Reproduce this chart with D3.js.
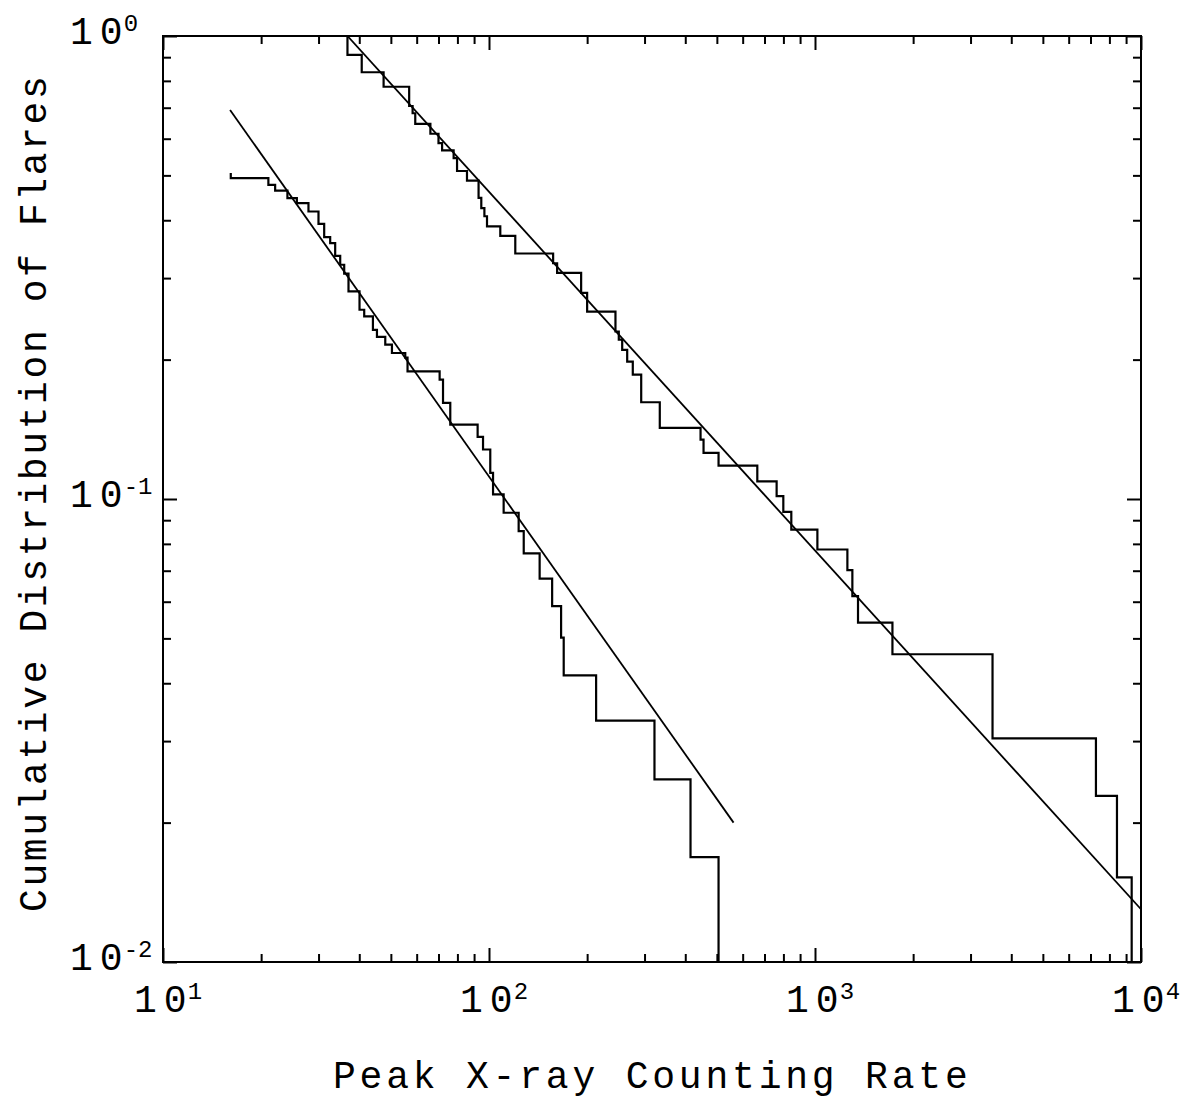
<!DOCTYPE html>
<html>
<head>
<meta charset="utf-8">
<script src="https://cdn.jsdelivr.net/npm/d3@7"></script>
<style>
  html, body { margin: 0; padding: 0; background: #fff; }
  svg { display: block; }
  text { font-family: "Liberation Mono", "DejaVu Sans Mono", monospace; fill: #000; }
</style>
</head>
<body>
<svg id="chart" width="1180" height="1103"></svg>
<script>
// Cumulative distribution of flares versus peak X-ray counting rate.
// Each staircase: starting rate/level, then the rate at which each drop
// occurs and the level reached after it.
const upperStartRate = 36.8;
const upperStartLevel = 1.0;
const upperRates = [36.8, 40.7, 47.5, 56.9, 58.3, 59.4, 66.1, 70.0, 71.8, 77.9,
  79.8, 85.6, 92.9, 94.7, 96.8, 98.6, 108.3, 120.4, 157.3, 161.8,
  191.7, 200.0, 244.3, 250.1, 256.2, 265.4, 276.1, 293.0, 334.1, 445.6,
  455.1, 506.0, 665.3, 762.6, 799.5, 845.9, 1017, 1257, 1302, 1355,
  1728, 3504, 7274, 8439, 9363];
const upperLevels = [0.910, 0.835, 0.777, 0.706, 0.681, 0.646, 0.615, 0.587, 0.566, 0.545,
  0.511, 0.487, 0.447, 0.425, 0.408, 0.388, 0.370, 0.339, 0.323, 0.308,
  0.2786, 0.254, 0.230, 0.221, 0.210, 0.198, 0.1856, 0.1618, 0.1424, 0.1344,
  0.1258, 0.1181, 0.1092, 0.1014, 0.0938, 0.0859, 0.0778, 0.0702, 0.0617, 0.0541,
  0.0462, 0.0304, 0.02285, 0.01523, 0.0076];

const lowerStartRate = 16.14;
const lowerStartLevel = 0.506;
const lowerRates = [16.14, 21.05, 22.08, 24.08, 25.74, 27.94, 29.99, 31.22, 32.57, 33.74,
  34.96, 35.96, 37.07, 40.07, 41.42, 44.05, 45.32, 48.06, 50.38, 55.35,
  56.25, 70.56, 72.27, 76.07, 92.28, 95.87, 100.9, 102.9, 110.9, 123.3,
  127.8, 143.0, 156.2, 166.4, 169.5, 213.1, 321.8, 415.1, 506.0];
const lowerLevels = [0.493, 0.477, 0.4637, 0.4466, 0.4356, 0.4178, 0.3929, 0.3679, 0.357, 0.335,
  0.3206, 0.3066, 0.2808, 0.2563, 0.248, 0.232, 0.2239, 0.2154, 0.2067, 0.202,
  0.1887, 0.1811, 0.1613, 0.1448, 0.1362, 0.1279, 0.1139, 0.1023, 0.0934, 0.0852,
  0.0763, 0.0673, 0.0587, 0.0502, 0.0416, 0.0332, 0.0248, 0.01685, 0.0083];

// Power-law fits (end points).
const upperFitRates = [36.8, 10000];
const upperFitLevels = [1.0, 0.0130];
const lowerFitRates = [16.06, 562.6];
const lowerFitLevels = [0.692, 0.0200];

// Axis ticks and labels.
const xMajor = [10, 100, 1000, 10000];
const xLabelExp = ["1", "2", "3", "4"];
const yMajor = [1, 0.1, 0.01];
const yLabelExp = ["0", "-1", "-2"];
const xTitle = "Peak X-ray Counting Rate";
const yTitle = "Cumulative Distribution of Flares";

const svg = d3.select("#chart");
const L = 163, R = 1141, T = 36, B = 962;

const x = d3.scaleLog().domain([10, 10000]).range([L, R]);
const y = d3.scaleLog().domain([0.01, 1]).range([B, T]);

const xMinor = [];
[10, 100, 1000].forEach(d => { for (let k = 2; k <= 9; k++) xMinor.push(k * d); });
const yMinor = [];
[0.01, 0.1].forEach(d => { for (let k = 2; k <= 9; k++) yMinor.push(+(k * d).toPrecision(3)); });

svg.append("defs").append("clipPath").attr("id", "plotClip")
  .append("rect").attr("x", L).attr("y", T).attr("width", R - L).attr("height", B - T);

// Ticks on all four sides, pointing inward.
function tickAxis(axisFn, values, len, transform) {
  const g = svg.append("g").attr("transform", transform)
    .call(axisFn.tickValues(values).tickSize(-len).tickFormat(""));
  g.select(".domain").remove();
  g.selectAll(".tick line").attr("stroke", "#000").attr("stroke-width", 2);
}
tickAxis(d3.axisBottom(x), xMajor, 14, `translate(0,${B})`);
tickAxis(d3.axisBottom(x), xMinor, 8, `translate(0,${B})`);
tickAxis(d3.axisTop(x), xMajor, 14, `translate(0,${T})`);
tickAxis(d3.axisTop(x), xMinor, 8, `translate(0,${T})`);
tickAxis(d3.axisLeft(y), yMajor, 14, `translate(${L},0)`);
tickAxis(d3.axisLeft(y), yMinor, 8, `translate(${L},0)`);
tickAxis(d3.axisRight(y), yMajor, 14, `translate(${R},0)`);
tickAxis(d3.axisRight(y), yMinor, 8, `translate(${R},0)`);

// Frame
svg.append("rect").attr("x", L).attr("y", T).attr("width", R - L).attr("height", B - T)
  .attr("fill", "none").attr("stroke", "#000").attr("stroke-width", 2);

// Staircases
function stairPoints(r0, l0, rates, levels) {
  const pts = [[r0, l0]];
  let prev = l0;
  rates.forEach((r, i) => { pts.push([r, prev]); pts.push([r, levels[i]]); prev = levels[i]; });
  return pts;
}
const line = d3.line().x(d => x(d[0])).y(d => y(d[1]));
const plot = svg.append("g").attr("clip-path", "url(#plotClip)");

[[upperStartRate, upperStartLevel, upperRates, upperLevels],
 [lowerStartRate, lowerStartLevel, lowerRates, lowerLevels]].forEach(s => {
  plot.append("path").attr("d", line(stairPoints(...s)))
    .attr("fill", "none").attr("stroke", "#000").attr("stroke-width", 2.2)
    .attr("stroke-linejoin", "miter");
});

[[upperFitRates, upperFitLevels], [lowerFitRates, lowerFitLevels]].forEach(([rs, ls]) => {
  plot.append("path").attr("d", line(rs.map((r, i) => [r, ls[i]])))
    .attr("fill", "none").attr("stroke", "#000").attr("stroke-width", 1.8);
});

// Tick labels: "10" with a raised exponent
const mainSize = 38, supSize = 24;
function powerLabel(px, py, exp) {
  const t = svg.append("text").attr("x", px).attr("y", py).attr("font-size", mainSize);
  t.append("tspan").attr("letter-spacing", 7).text("1");
  t.append("tspan").text("0");
  t.append("tspan").attr("font-size", supSize).attr("dx", 1).attr("dy", -13).text(exp);
}
xMajor.forEach((v, i) => powerLabel(x(v) - 29, 1012, xLabelExp[i]));
yMajor.forEach((v, i) => powerLabel(70, y(v) + 8, yLabelExp[i]));

// Axis titles
svg.append("text").attr("x", 333).attr("y", 1088)
  .attr("font-size", 38).attr("letter-spacing", 3.8).text(xTitle);
svg.append("text").attr("transform", "translate(46,912) rotate(-90)")
  .attr("font-size", 38).attr("letter-spacing", 2.6).text(yTitle);
</script>
</body>
</html>
